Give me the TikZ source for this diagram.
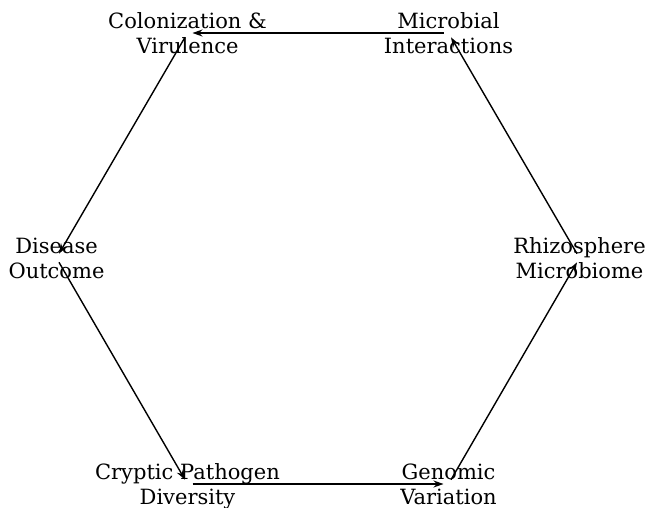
\documentclass[tikz,border=0pt]{standalone}
\usepackage{fontspec}
\setmainfont{DejaVu Serif}
\usepackage{tikz}
\usetikzlibrary{arrows.meta, positioning}
\newcommand{\topstrut}{\rule{0pt}{22.5pt}}

\begin{document}
\begin{tikzpicture}[
    x=1pt, y=-1pt,
    stage/.style={align=center, inner sep=0pt, font=\fontsize{21}{25}\selectfont},
    arrow/.style={-{Stealth[length=10pt, width=7pt]}, line width=1.4pt, black,
        shorten <=5pt, shorten >=5pt}
]
    \useasboundingbox (0,0) rectangle (648,507);

    % Stages of the cycle
    \node (col) [stage] at (187.5,33) {\topstrut Colonization \&\\\strut Virulence};
    \node (mic) [stage] at (448.5,33) {\topstrut Microbial\\\strut Interactions};
    \node (rhi) [stage] at (579.5,258) {\topstrut Rhizosphere\\\strut Microbiome};
    \node (gen) [stage] at (448.5,484) {\topstrut Genomic\\\strut Variation};
    \node (cry) [stage] at (187.5,484) {\topstrut Cryptic Pathogen\\\strut Diversity};
    \node (dis) [stage] at (56.5,258) {\topstrut Disease\\\strut Outcome};

    % Connections
    \draw [arrow] (mic.center) -- (col.center);
    \draw [arrow] (col.center) -- (dis.center);
    \draw [arrow] (dis.center) -- (cry.center);
    \draw [arrow] (cry.center) -- (gen.center);
    \draw [arrow] (gen.center) -- (rhi.center);
    \draw [arrow] (rhi.center) -- (mic.center);
\end{tikzpicture}
\end{document}
